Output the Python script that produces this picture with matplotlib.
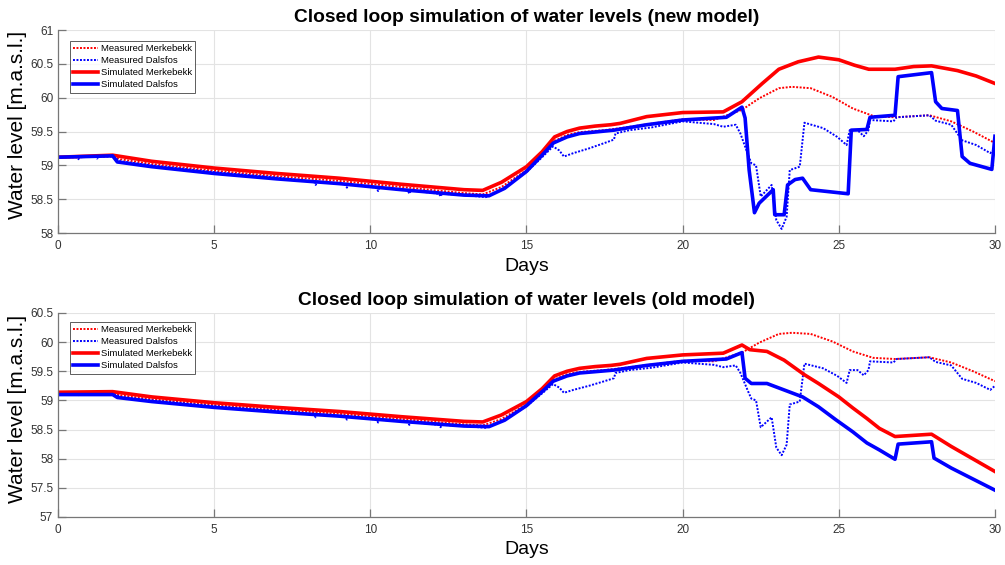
import numpy as np
import matplotlib.pyplot as plt

plt.rcParams['font.family'] = ['Liberation Sans', 'DejaVu Sans']

# measured levels (same record in both panels)
days_meas_merk = [0, 1.75, 2.0, 3, 5, 7, 9, 11, 13, 13.6, 14.2, 15.0, 15.5, 15.9, 16.3, 16.7,
                  17.5, 18, 20, 21.0, 21.9, 22.45, 23.08, 23.5, 24.1, 24.8, 25.45, 26.1, 26.8,
                  27.9, 28.6, 29.3, 30]
meas_merk = [59.12, 59.14, 59.09, 59.02, 58.92, 58.84, 58.77, 58.68, 58.59, 58.57, 58.68, 58.93,
             59.18, 59.36, 59.45, 59.49, 59.52, 59.55, 59.68, 59.67, 59.82, 59.99, 60.14, 60.16,
             60.14, 60.01, 59.84, 59.73, 59.71, 59.74, 59.65, 59.50, 59.33]

days_meas_dals = [0, 0.6, 0.65, 0.7, 1.2, 1.25, 1.3, 1.75, 2.0, 3, 5, 7, 8.2, 8.25, 8.3, 9.2,
                  9.25, 9.3, 10.2, 10.25, 10.3, 11.2, 11.25, 11.3, 12.2, 12.25, 12.3, 13, 13.7,
                  14.2, 15.0, 15.5, 15.85, 16.05, 16.2, 16.5, 17.0, 17.5, 17.8, 17.85, 18.3, 19,
                  20, 21, 21.3, 21.7, 21.85, 22.1, 22.2, 22.35, 22.5, 22.85, 23.0, 23.17, 23.33,
                  23.43, 23.75, 23.9, 24.5, 24.95, 25.25, 25.35, 25.6, 25.8, 25.95, 26.0, 26.75,
                  26.85, 27.9, 28.1, 28.6, 28.95, 29.4, 29.85, 30]
meas_dals = [59.12, 59.12, 59.09, 59.12, 59.13, 59.10, 59.13, 59.13, 59.06, 59.00, 58.90, 58.82,
             58.76, 58.71, 58.76, 58.72, 58.67, 58.72, 58.67, 58.62, 58.67, 58.63, 58.58, 58.63,
             58.58, 58.54, 58.58, 58.56, 58.53, 58.64, 58.90, 59.12, 59.28, 59.22, 59.13, 59.18,
             59.25, 59.33, 59.38, 59.47, 59.52, 59.56, 59.65, 59.61, 59.57, 59.60, 59.47, 59.15,
             59.03, 59.00, 58.54, 58.71, 58.19, 58.06, 58.24, 58.93, 58.98, 59.63, 59.55, 59.42,
             59.30, 59.52, 59.52, 59.43, 59.52, 59.67, 59.65, 59.71, 59.74, 59.66, 59.60, 59.37,
             59.30, 59.18, 59.25]

# simulated levels, new model
days_new_merk = [0, 1.75, 3, 5, 7, 9, 11, 13, 13.6, 14.2, 15.0, 15.5, 15.9, 16.3, 16.7, 17.2,
                 17.7, 18.0, 18.85, 20, 21.3, 21.9, 22.55, 23.08, 23.7, 24.35, 25.0, 25.5, 25.96,
                 26.8, 27.4, 27.97, 28.8, 29.4, 30]
new_merk = [59.12, 59.15, 59.06, 58.96, 58.88, 58.81, 58.72, 58.64, 58.63, 58.75, 58.98, 59.20,
            59.42, 59.50, 59.55, 59.58, 59.60, 59.62, 59.72, 59.78, 59.79, 59.94, 60.21, 60.42,
            60.53, 60.60, 60.56, 60.48, 60.42, 60.42, 60.46, 60.47, 60.40, 60.32, 60.21]

days_new_dals = [0, 1.75, 1.9, 3, 5, 7, 9, 11, 13, 13.8, 14.3, 15.0, 15.5, 15.86, 16.3, 16.7,
                 17.8, 18.85, 20, 21.4, 21.9, 22.0, 22.13, 22.3, 22.45, 22.9, 22.95, 23.25, 23.36,
                 23.6, 23.84, 24.1, 25.3, 25.4, 25.9, 26.0, 26.8, 26.9, 27.97, 28.1, 28.3, 28.8,
                 28.95, 29.2, 29.9, 30]
new_dals = [59.12, 59.14, 59.05, 58.98, 58.88, 58.80, 58.73, 58.64, 58.56, 58.55, 58.66, 58.91,
            59.15, 59.33, 59.42, 59.47, 59.52, 59.60, 59.67, 59.71, 59.86, 59.70, 58.93, 58.30,
            58.44, 58.64, 58.27, 58.27, 58.71, 58.79, 58.81, 58.64, 58.58, 59.52, 59.53, 59.71,
            59.74, 60.31, 60.37, 59.94, 59.84, 59.81, 59.13, 59.03, 58.94, 59.43]

# simulated levels, old model
days_old_merk = [0, 1.75, 3, 5, 7, 9, 11, 13, 13.6, 14.2, 15.0, 15.5, 15.9, 16.3, 16.7, 17.2,
                 17.7, 18.0, 18.85, 20, 21.3, 21.9, 22.15, 22.7, 23.25, 23.9, 24.35, 25.0, 25.45,
                 25.9, 26.3, 26.8, 27.97, 28.6, 30]
old_merk = [59.14, 59.15, 59.06, 58.96, 58.88, 58.81, 58.72, 58.64, 58.63, 58.75, 58.98, 59.20,
            59.42, 59.50, 59.55, 59.58, 59.60, 59.62, 59.72, 59.78, 59.81, 59.95, 59.87, 59.84,
            59.69, 59.44, 59.29, 59.06, 58.87, 58.69, 58.52, 58.38, 58.42, 58.21, 57.78]

days_old_dals = [0, 1.75, 1.9, 3, 5, 7, 9, 11, 13, 13.8, 14.3, 15.0, 15.5, 15.86, 16.3, 16.7,
                 17.8, 18.85, 20, 21.4, 21.9, 22.0, 22.2, 22.7, 23.84, 24.35, 24.9, 25.45, 25.9,
                 26.3, 26.8, 26.9, 27.97, 28.05, 28.6, 30]
old_dals = [59.10, 59.10, 59.05, 58.98, 58.88, 58.80, 58.73, 58.64, 58.56, 58.55, 58.66, 58.91,
            59.15, 59.33, 59.42, 59.47, 59.52, 59.60, 59.67, 59.71, 59.82, 59.38, 59.29, 59.29,
            59.06, 58.89, 58.67, 58.46, 58.27, 58.15, 57.99, 58.25, 58.29, 58.01, 57.84, 57.46]

panels = [
    ('Closed loop simulation of water levels (new model)', days_new_merk, new_merk,
     days_new_dals, new_dals, (58, 61), np.arange(58, 61.01, 0.5), 0.946),
    ('Closed loop simulation of water levels (old model)', days_old_merk, old_merk,
     days_old_dals, old_dals, (57, 60.5), np.arange(57, 60.51, 0.5), 0.956),
]
rects = [[0.0577, 0.5876, 0.9323, 0.3593], [0.0577, 0.085, 0.9323, 0.3611]]

fig = plt.figure(figsize=(10.05, 5.65), dpi=100)
dot = (0, (1, 0.8))
for rect, (title, dm, ym, dd, yd, ylim, yticks, leg_top) in zip(rects, panels):
    ax = fig.add_axes(rect)
    ax.plot(days_meas_merk, meas_merk, color='r', ls=dot, lw=1.4, label='Measured Merkebekk')
    ax.plot(days_meas_dals, meas_dals, color='b', ls=dot, lw=1.4, label='Measured Dalsfos')
    ax.plot(dm, ym, color='r', lw=2.6, label='Simulated Merkebekk')
    ax.plot(dd, yd, color='b', lw=2.6, label='Simulated Dalsfos')
    ax.set_xlim(0, 30)
    ax.set_ylim(*ylim)
    ax.set_xticks(np.arange(0, 31, 5))
    ax.set_yticks(yticks)
    ax.set_yticklabels(['%g' % v for v in yticks])
    ax.grid(True, color='#e3e3e3', lw=0.8)
    ax.set_axisbelow(True)
    for s in ['top', 'right']:
        ax.spines[s].set_visible(False)
    for s in ['left', 'bottom']:
        ax.spines[s].set_color('#777777')
        ax.spines[s].set_linewidth(0.9)
    ax.tick_params(direction='in', length=6, width=0.9, color='#777777',
                   labelsize=8.5, labelcolor='#333333', pad=3.5)
    ax.tick_params(axis='x', pad=5)
    ax.set_title(title, fontsize=13.8, fontweight='bold', pad=6)
    ax.set_xlabel('Days', fontsize=14, labelpad=4)
    ax.set_ylabel('Water level [m.a.s.l.]', fontsize=15)
    ax.yaxis.set_label_coords(-0.033, 0.53)
    leg = ax.legend(loc='upper left', bbox_to_anchor=(0.0128, leg_top), fontsize=6.8,
                    frameon=True, fancybox=False, edgecolor='#333333', borderpad=0.35,
                    handlelength=2.6, handletextpad=0.3, labelspacing=0.32,
                    borderaxespad=0)
    leg.get_frame().set_linewidth(0.7)

plt.savefig('out.png', dpi=100)
